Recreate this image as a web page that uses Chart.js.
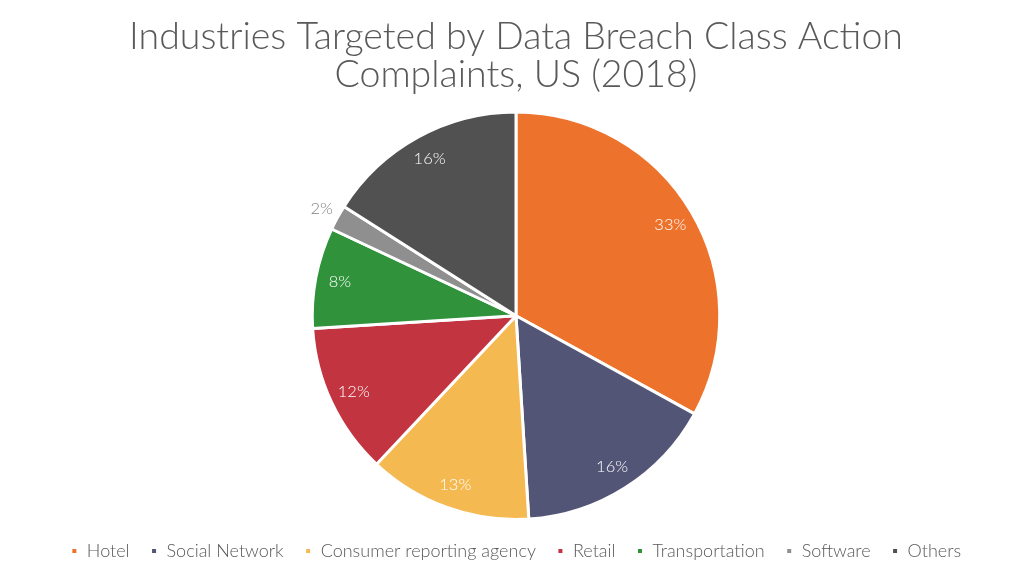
<!DOCTYPE html>
<html>
<head>
<meta charset="utf-8">
<script src="https://cdn.jsdelivr.net/npm/chart.js@4/dist/chart.umd.min.js"></script>
<style>
  html, body { margin: 0; padding: 0; background: #fff; }
  #wrap { width: 1024px; height: 582px; position: relative; }
</style>
</head>
<body>
<div id="wrap"><canvas id="pie" width="1024" height="582"></canvas></div>
<script>
// values
const industries = ['Hotel', 'Social Network', 'Consumer reporting agency', 'Retail', 'Transportation', 'Software', 'Others'];
const shares = [33, 16, 13, 12, 8, 2, 16];
const sliceColors = ['#ED722C', '#525575', '#F5B951', '#C13440', '#30923B', '#8F8F8F', '#515151'];

const pctLabels = {
    id: 'pctLabels',
    afterDatasetsDraw(chart) {
        const ctx = chart.ctx;
        const meta = chart.getDatasetMeta(0);
        ctx.save();
        ctx.font = '300 16.5px Lato';
        ctx.textAlign = 'center';
        ctx.textBaseline = 'middle';
        meta.data.forEach((arc, i) => {
            const mid = (arc.startAngle + arc.endAngle) / 2;
            const small = shares[i] < 5;
            const r = small ? arc.outerRadius + 18 : arc.outerRadius * 0.88;
            const x = arc.x + Math.cos(mid) * r;
            const y = arc.y + Math.sin(mid) * r;
            ctx.fillStyle = small ? '#7f7f7f' : '#ffffff';
            ctx.fillText(shares[i] + '%', x, y);
        });
        ctx.restore();
    }
};

const ctx = document.getElementById('pie').getContext('2d');
new Chart(ctx, {
    type: 'pie',
    data: {
        labels: industries,
        datasets: [{
            data: shares,
            backgroundColor: sliceColors,
            borderColor: '#ffffff',
            borderWidth: 3
        }]
    },
    options: {
        responsive: false,
        animation: false,
        layout: { padding: { top: 10, bottom: 12, left: 8 } },
        plugins: {
            title: {
                display: true,
                text: ['Industries Targeted by Data Breach Class Action', 'Complaints, US (2018)'],
                color: '#595959',
                font: { family: 'Lato', size: 37.5, weight: '300', lineHeight: 1.02 },
                padding: { top: 8, bottom: 16 }
            },
            legend: {
                position: 'bottom',
                labels: {
                    color: '#595959',
                    font: { family: 'Lato', size: 18, weight: '300' },
                    boxWidth: 7,
                    boxHeight: 7,
                    padding: 21
                }
            },
            tooltip: { enabled: false }
        }
    },
    plugins: [pctLabels]
});
</script>
</body>
</html>
